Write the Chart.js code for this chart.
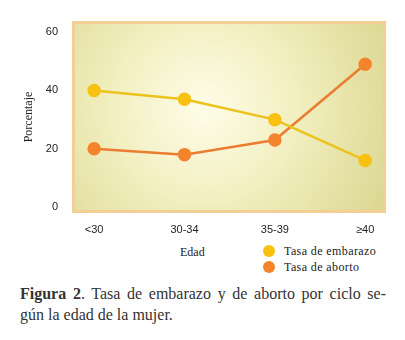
<!DOCTYPE html>
<html>
<head>
<meta charset="utf-8">
<script src="https://cdn.jsdelivr.net/npm/chart.js@4"></script>
<style>
  body { margin: 0; background: #fff; width: 405px; height: 340px; position: relative; overflow: hidden; }
  #wrap { position: absolute; left: 0; top: 0; width: 405px; height: 240px; }
  .serif { font-family: "Liberation Serif", "DejaVu Serif", serif; color: #222; }
  #edad { position: absolute; left: 180px; top: 245px; font-size: 12px; }
  .leg { position: absolute; left: 263px; font-size: 12px; height: 14px; line-height: 14px; }
  .leg span.dot { position: absolute; left: 0; top: 1px; width: 12px; height: 12px; border-radius: 50%; }
  .leg span.txt { position: absolute; left: 21px; top: 0; white-space: nowrap; letter-spacing: 0.4px; }
  #caption { position: absolute; left: 20px; top: 283px; width: 366px; font-size: 16px; color: #333; line-height: 21px; }
  #caption .l1 { text-align: justify; text-align-last: justify; }
</style>
</head>
<body>
<div id="wrap"><canvas id="chart"></canvas></div>
<div id="edad" class="serif">Edad</div>
<div id="legend"></div>
<div id="caption" class="serif">
  <div class="l1"><b>Figura 2</b>. Tasa de embarazo y de aborto por ciclo se-</div>
  <div>gún la edad de la mujer.</div>
</div>
<script>
const edades = ['<30', '30-34', '35-39', '≥40'];
const tasaEmbarazo = [40, 37, 30, 16];
const tasaAborto = [20, 18, 23, 49];
const yTicks = [0, 20, 40, 60];

const series = [
    { label: 'Tasa de embarazo', data: tasaEmbarazo, line: '#ecc21c', point: '#f8c010' },
    { label: 'Tasa de aborto', data: tasaAborto, line: '#ea7d32', point: '#f4842c' }
];

// panel background with soft radial light
const panelBg = {
    id: 'panelBg',
    beforeDraw(chart) {
        const { ctx, chartArea: a } = chart;
        const cx = a.left + (a.right - a.left) * 0.42, cy = (a.top + a.bottom) / 2 - 8;
        const g = ctx.createRadialGradient(cx, cy, 5, cx, cy, 200);
        g.addColorStop(0, '#fdfce6');
        g.addColorStop(0.45, '#f2efc0');
        g.addColorStop(1, '#dcd893');
        ctx.save();
        ctx.fillStyle = g;
        ctx.fillRect(a.left, a.top, a.right - a.left, a.bottom - a.top);
        ctx.strokeStyle = '#f2cf94';
        ctx.lineWidth = 3;
        ctx.strokeRect(a.left + 1.5, a.top + 1.5, a.right - a.left - 3, a.bottom - a.top - 3);
        ctx.restore();
    }
};

const ctx = document.getElementById('chart').getContext('2d');
new Chart(ctx, {
    type: 'line',
    data: {
        datasets: series.map(s => ({
            label: s.label,
            data: s.data.map((v, i) => ({ x: i, y: v })),
            borderColor: s.line,
            backgroundColor: s.point,
            pointBackgroundColor: s.point,
            pointBorderColor: s.point,
            pointRadius: 5.5,
            borderWidth: 2.5,
            tension: 0
        }))
    },
    options: {
        responsive: true,
        maintainAspectRatio: false,
        animation: false,
        layout: { padding: { left: 20, right: 19, top: 21, bottom: 0 } },
        scales: {
            x: {
                type: 'linear',
                min: -0.245,
                max: 3.23,
                grid: { display: false },
                border: { display: false },
                afterBuildTicks: scale => { scale.ticks = edades.map((e, i) => ({ value: i })); },
                afterFit: scale => { scale.height = 27; },
                ticks: {
                    padding: 2,
                    color: '#222',
                    font: { family: 'Liberation Sans, Arial, sans-serif', size: 11 },
                    callback: v => edades[v]
                }
            },
            y: {
                min: -2,
                max: 63.8,
                grid: { display: false },
                border: { display: false },
                afterBuildTicks: scale => { scale.ticks = yTicks.map(v => ({ value: v })); },
                afterFit: scale => { scale.width = 52; },
                ticks: {
                    padding: 6,
                    color: '#222',
                    font: { family: 'Liberation Sans, Arial, sans-serif', size: 11 }
                },
                title: {
                    display: true,
                    text: 'Porcentaje',
                    color: '#222',
                    padding: { top: 2, bottom: 0 },
                    font: { family: 'Liberation Serif, serif', size: 12 }
                }
            }
        },
        plugins: {
            legend: { display: false },
            tooltip: { enabled: false }
        }
    },
    plugins: [panelBg]
});

// legend as text beside the axis title
const legend = document.getElementById('legend');
series.forEach((s, i) => {
    const d = document.createElement('div');
    d.className = 'leg serif';
    d.style.top = (244 + i * 16) + 'px';
    d.innerHTML = '<span class="dot" style="background:' + s.point + '"></span><span class="txt">' + s.label + '</span>';
    legend.appendChild(d);
});
</script>
</body>
</html>
